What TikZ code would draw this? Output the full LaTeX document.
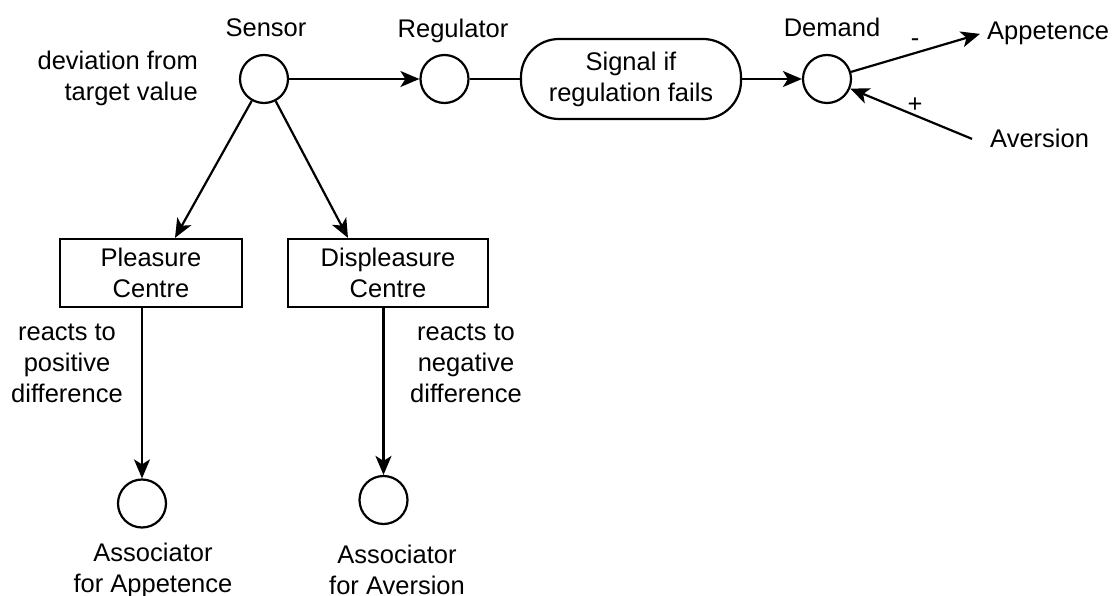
\documentclass[tikz,border=0pt]{standalone}
\usepackage{fontspec}
\setmainfont{Liberation Sans}
\usetikzlibrary{arrows.meta}

\begin{document}
\begin{tikzpicture}[x=1pt,y=-1pt,
  txt/.style={font=\fontsize{25.5}{31}\selectfont, inner sep=0pt},
  unit/.style={circle, draw, line width=2.2pt, minimum size=48pt, inner sep=0pt},
  centrebox/.style={rectangle, draw, line width=2.2pt, inner sep=0pt,
    minimum height=68pt, align=center, txt},
  arr/.style={line width=2.2pt, -{Stealth[length=19pt,width=16pt,inset=5pt]}},
  link/.style={line width=2.2pt}]

\useasboundingbox (0,0) rectangle (1117,596);

% top row: sensor, regulator, signal, demand
\node[unit] (sensor) at (264,79) {};
\node[unit] (regulator) at (444.5,79) {};
\node[draw, line width=2.2pt, rounded corners=38pt, minimum width=220pt,
      minimum height=80pt, inner sep=0pt, align=center, txt] (signal) at (631,79)
      {Signal if\\regulation fails};
\node[unit] (demand) at (827,79) {};

\node[txt, anchor=base] (sensorlbl) at (266,37) {Sensor};
\node[txt, anchor=base] (regulatorlbl) at (453,38) {Regulator};
\node[txt, anchor=base] (demandlbl) at (832,37) {Demand};
% multi-line labels are placed by the baseline of their last line
\node[txt, anchor=base east, align=right] (deviation) at (198,101)
      {deviation from\\target value};

\node[txt, anchor=base west] (appetence) at (987,40) {Appetence};
\node[txt, anchor=base west] (aversion) at (990,148) {Aversion};
\node[txt, anchor=base] (minus) at (915,47) {-};
\node[txt, anchor=base] (plus) at (915,112.5) {+};

% pleasure / displeasure centres
\node[centrebox, minimum width=182pt] (pleasure) at (151,273) {Pleasure\\Centre};
\node[centrebox, minimum width=200pt] (displeasure) at (388,273) {Displeasure\\Centre};

\node[txt, anchor=base, align=center] (posdiff) at (67,402)
      {reacts to\\positive\\difference};
\node[txt, anchor=base, align=center] (negdiff) at (466,402)
      {reacts to\\negative\\difference};

% associators
\node[unit] (assocA) at (142,503.5) {};
\node[unit] (assocB) at (383.5,500) {};
\node[txt, anchor=base, align=center] (assocAlbl) at (153,592)
      {Associator\\for Appetence};
\node[txt, anchor=base, align=center] (assocBlbl) at (397,594)
      {Associator\\for Aversion};

% connectors
\draw[arr] (sensor) -- (regulator);
\draw[link] (regulator) -- (signal);
\draw[arr] (signal) -- (demand);
\draw[arr] (demand) -- ([xshift=-7pt]appetence.west);
\draw[arr] ([xshift=-18pt]aversion.west) -- (demand);
\draw[arr] (sensor) -- ([xshift=24pt]pleasure.north);
\draw[arr] (sensor) -- ([xshift=-40pt]displeasure.north);
\draw[arr] (assocA |- pleasure.south) -- (assocA);
\draw[arr] (assocB |- displeasure.south) -- (assocB);

\end{tikzpicture}
\end{document}
